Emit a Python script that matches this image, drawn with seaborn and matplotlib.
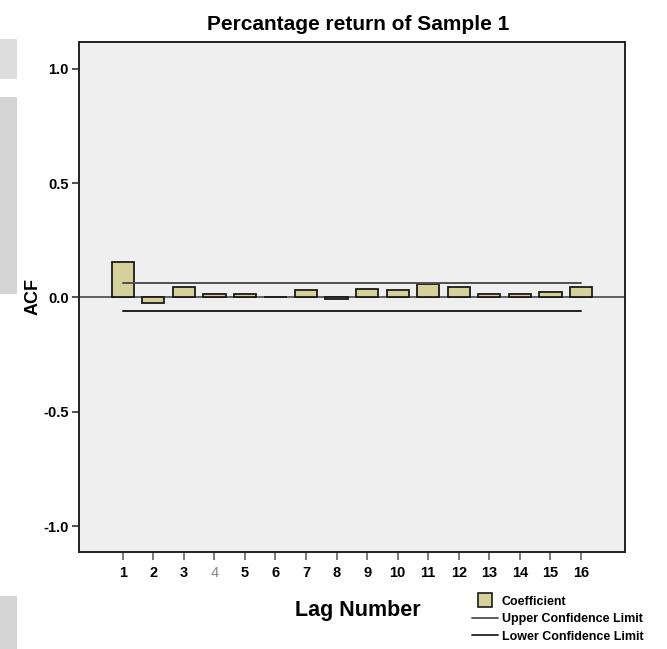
import numpy as np
import pandas as pd
import seaborn as sns
import matplotlib.pyplot as plt
from matplotlib.patches import Rectangle
from matplotlib.lines import Line2D

# ACF values
lags = list(range(1, 17))
acf = [0.153, -0.025, 0.047, 0.016, 0.016, 0.002, 0.033, -0.008,
       0.038, 0.031, 0.057, 0.047, 0.016, 0.016, 0.024, 0.046]
upper_limit = [0.062] * 16
lower_limit = [-0.060] * 16
y_ticks = [-1.0, -0.5, 0.0, 0.5, 1.0]

df = pd.DataFrame({"Lag": lags, "ACF": acf,
                   "Upper": upper_limit, "Lower": lower_limit})

sns.set_style("white")
plt.rcParams["font.family"] = ["Liberation Sans", "DejaVu Sans"]
plt.rcParams["font.weight"] = "bold"
plt.rcParams["text.color"] = "black"
plt.rcParams["axes.labelcolor"] = "black"
plt.rcParams["xtick.color"] = "black"
plt.rcParams["ytick.color"] = "black"

fig = plt.figure(figsize=(6.67, 6.49), dpi=100)
ax = fig.add_axes([0.118, 0.150, 0.819, 0.785])
ax.set_facecolor("#efefef")

# grey strip along the left edge of the screenshot
for y0, h, c in [(0.878, 0.062, "#dddddd"), (0.547, 0.304, "#d4d4d4"), (0.0, 0.082, "#d4d4d4")]:
    fig.patches.append(Rectangle((0, y0), 0.026, h, transform=fig.transFigure,
                                 facecolor=c, edgecolor="none", zorder=0))

ax.axhline(0, color="#555555", lw=1.3, zorder=1)

sns.barplot(data=df, x="Lag", y="ACF", native_scale=True, width=0.73,
            color="#d6d19a", edgecolor="#1a1a1a", linewidth=1.3,
            saturation=1, ax=ax, zorder=2)

sns.lineplot(data=df, x="Lag", y="Upper", color="#505050", lw=1.4, ax=ax, zorder=3)
sns.lineplot(data=df, x="Lag", y="Lower", color="#222222", lw=1.4, ax=ax, zorder=3)

ax.set_xlim(-0.44, 17.44)
ax.set_ylim(-1.11, 1.115)
ax.set_xticks(lags)
ax.set_xticklabels([str(l) for l in lags], fontsize=10.5, fontweight="bold")
ax.set_yticks(y_ticks)
ax.set_yticklabels([f"{v:.1f}" for v in y_ticks], fontsize=10.5, fontweight="bold")
ax.tick_params(axis="y", direction="out", length=5, width=1.2, color="#333333", left=True, pad=2)
ax.tick_params(axis="x", direction="out", length=6, width=1.2, color="#666666", bottom=True, pad=4)
ax.xaxis.get_ticklabels()[3].set_color("#888888")
ax.xaxis.get_ticklabels()[3].set_fontweight("normal")

for s in ax.spines.values():
    s.set_visible(True)
    s.set_color("#222222")
    s.set_linewidth(1.4)

ax.set_title("Percantage return of Sample 1", fontsize=15, fontweight="bold", pad=9, x=0.511)
ax.set_xlabel("Lag Number", fontsize=15.5, fontweight="bold")
ax.xaxis.set_label_coords(0.511, -0.095)
ax.set_ylabel("ACF", fontsize=13, fontweight="bold")
ax.yaxis.set_label_coords(-0.068, 0.5)
if ax.get_legend():
    ax.get_legend().remove()

handles = [Line2D([], [], ls="none", marker="s", markersize=10,
                  markerfacecolor="#d6d19a", markeredgecolor="#1a1a1a", markeredgewidth=1.2),
           Line2D([], [], color="#505050", lw=1.3),
           Line2D([], [], color="#222222", lw=1.3)]
labels = ["Coefficient", "Upper Confidence Limit", "Lower Confidence Limit"]
fig.legend(handles, labels, loc="upper left", bbox_to_anchor=(0.700, 0.090),
           frameon=False, prop={"weight": "bold", "size": 9},
           handlelength=2.1, handletextpad=0.3, labelspacing=0.45, borderaxespad=0)

fig.savefig("out.png", dpi=100)
